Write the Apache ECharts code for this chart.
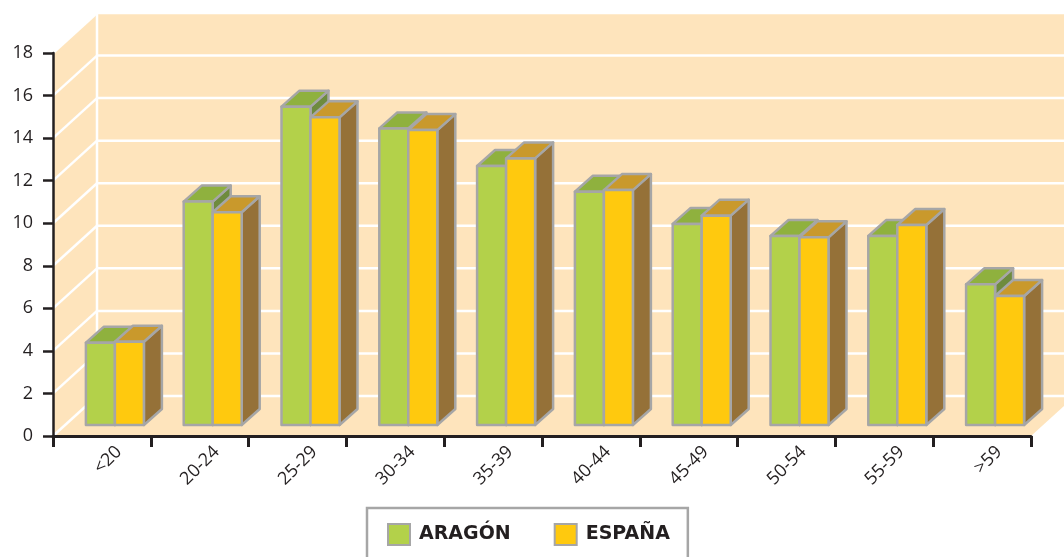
<!DOCTYPE html>
<html lang="es">
<head>
<meta charset="UTF-8">
<title>ARAGÓN / ESPAÑA por edad</title>
<script src="https://cdn.jsdelivr.net/npm/echarts@6/dist/echarts.min.js"></script>
<style>
    html, body { margin: 0; padding: 0; background: #fff; }
    #main { width: 1064px; height: 557px; }
</style>
</head>
<body>

<div id="main"></div>

<script type="text/javascript">

    // datos
    var grupos = ['<20', '20-24', '25-29', '30-34', '35-39', '40-44', '45-49', '50-54', '55-59', '>59'];
    var aragon = [3.87, 10.5, 14.96, 13.94, 12.17, 10.96, 9.45, 8.88, 8.88, 6.61];
    var espana = [3.91, 10.0, 14.46, 13.86, 12.53, 11.04, 9.84, 8.82, 9.4, 6.06];
    var ejeMin = 0, ejeMax = 18, ejePaso = 2;

    // perspectiva: fondo de las paredes, plano de las barras y grosor de cada caja
    var PARED = [44, -40];
    var PLANO = [13, -11];
    var FONDO = [18, -16];
    var ANCHO = 29;
    var BORDE = '#a6a6a6';
    var TINTA = '#231f20';

    var verde = ['#b3d14a', '#8fb13e', '#6e8b3d'];
    var amarillo = ['#ffc90e', '#c9992c', '#957138'];

    function estilo(c) {
        return { fill: c, stroke: BORDE, lineWidth: 2.5, lineJoin: 'round' };
    }

    // caja 3d para una barra; lado -1 = izquierda del centro, 1 = derecha
    function caja(colores, lado) {
        return function (params, api) {
            var i = api.value(0), v = api.value(1);
            var base = api.coord([i, 0]);
            var tope = api.coord([i, v]);
            var cx = base[0] + PLANO[0];
            var x0 = lado < 0 ? cx - ANCHO : cx;
            var x1 = x0 + ANCHO;
            var yb = base[1] + PLANO[1], yt = tope[1] + PLANO[1];
            var dx = FONDO[0], dy = FONDO[1];
            return {
                type: 'group',
                children: [
                    { type: 'polygon', shape: { points: [[x1, yb], [x1 + dx, yb + dy], [x1 + dx, yt + dy], [x1, yt]] }, style: estilo(colores[2]) },
                    { type: 'polygon', shape: { points: [[x0, yt], [x1, yt], [x1 + dx, yt + dy], [x0 + dx, yt + dy]] }, style: estilo(colores[1]) },
                    { type: 'rect', shape: { x: x0, y: yt, width: ANCHO, height: yb - yt }, style: estilo(colores[0]) }
                ]
            };
        };
    }

    // pared del fondo, pared lateral y suelo con sus lineas blancas
    function paredes(params, api) {
        var g = params.coordSys;
        var L = g.x, R = g.x + g.width, T = g.y, B = g.y + g.height;
        var dx = PARED[0], dy = PARED[1];
        var fondo = '#fee4bc';
        var linea = { stroke: '#ffffff', lineWidth: 2.5 };
        var hijos = [
            { type: 'rect', shape: { x: L + dx, y: T + dy, width: R - L, height: B - T }, style: { fill: fondo } },
            { type: 'polygon', shape: { points: [[L, T], [L + dx, T + dy], [L + dx, B + dy], [L, B]] }, style: { fill: fondo } },
            { type: 'polygon', shape: { points: [[L, B], [R, B], [R + dx, B + dy], [L + dx, B + dy]] }, style: { fill: fondo } }
        ];
        for (var v = ejeMin; v <= ejeMax; v += ejePaso) {
            var y = api.coord([0, v])[1];
            hijos.push({ type: 'line', shape: { x1: L + dx, y1: y + dy, x2: R + dx, y2: y + dy }, style: linea });
            hijos.push({ type: 'line', shape: { x1: L, y1: y, x2: L + dx, y2: y + dy }, style: linea });
        }
        hijos.push({ type: 'line', shape: { x1: L + dx, y1: T + dy, x2: L + dx, y2: B + dy }, style: linea });
        return { type: 'group', children: hijos };
    }

    var myChart = echarts.init(document.getElementById('main'));

    var option = {
        animation: false,
        backgroundColor: '#ffffff',
        grid: [
            // rejilla principal
            { left: 53, right: 33, top: 53, bottom: 121 },
            // solo para las etiquetas del eje x, algo desplazadas a la derecha
            { left: 70, right: 16, top: 53, bottom: 121 }
        ],
        legend: {
            data: ['ARAGÓN', 'ESPAÑA'],
            left: 367,
            top: 508,
            icon: 'rect',
            itemWidth: 22,
            itemHeight: 21,
            itemGap: 43,
            padding: [15, 18, 40, 20],
            borderColor: BORDE,
            borderWidth: 2.5,
            itemStyle: { borderColor: BORDE, borderWidth: 2 },
            textStyle: {
                fontFamily: 'DejaVu Sans',
                fontWeight: 'bold',
                fontSize: 19,
                color: TINTA,
                padding: [0, 0, 0, 4]
            }
        },
        xAxis: [
            {
                type: 'category',
                data: grupos,
                z: 5,
                axisLine: { lineStyle: { color: TINTA, width: 3 } },
                axisTick: { show: true, length: 11, lineStyle: { color: TINTA, width: 3 } },
                axisLabel: { show: false },
                splitLine: { show: false }
            },
            {
                type: 'category',
                gridIndex: 1,
                data: grupos,
                axisLine: { show: false },
                axisTick: { show: false },
                axisLabel: {
                    interval: 0,
                    rotate: 45,
                    margin: 13,
                    fontFamily: 'Open Sans',
                    fontSize: 18,
                    color: TINTA
                },
                splitLine: { show: false }
            }
        ],
        yAxis: [
            {
                type: 'value',
                min: ejeMin,
                max: ejeMax,
                interval: ejePaso,
                z: 5,
                axisLine: { show: true, lineStyle: { color: TINTA, width: 2.5 } },
                axisTick: { show: true, length: 10, lineStyle: { color: TINTA, width: 2.5 } },
                axisLabel: {
                    margin: 20,
                    fontFamily: 'Open Sans',
                    fontSize: 18,
                    color: TINTA
                },
                splitLine: { show: false }
            },
            {
                type: 'value',
                gridIndex: 1,
                min: ejeMin,
                max: ejeMax,
                interval: ejePaso,
                show: false
            }
        ],
        series: [
            {
                name: 'paredes',
                type: 'custom',
                silent: true,
                renderItem: paredes,
                data: [[0, 0]],
                z: 1
            },
            {
                name: 'ARAGÓN',
                type: 'custom',
                renderItem: caja(verde, -1),
                itemStyle: { color: verde[0] },
                encode: { x: 0, y: 1 },
                data: aragon.map(function (v, i) { return [i, v]; }),
                z: 2
            },
            {
                name: 'ESPAÑA',
                type: 'custom',
                renderItem: caja(amarillo, 1),
                itemStyle: { color: amarillo[0] },
                encode: { x: 0, y: 1 },
                data: espana.map(function (v, i) { return [i, v]; }),
                z: 3
            }
        ]
    };

    myChart.setOption(option);

</script>

</body>
</html>
